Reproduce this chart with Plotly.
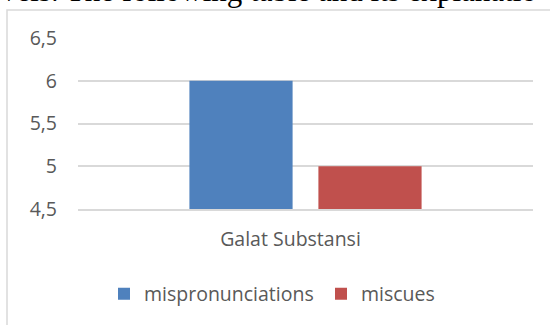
import plotly.graph_objects as go

categories = ["Galat Substansi"]
series_names = ["mispronunciations", "miscues"]
series_values = [[6], [5]]
series_colors = ["#4F81BD", "#C0504D"]
y_ticks = [4.5, 5, 5.5, 6, 6.5]
y_tick_labels = ["4,5", "5", "5,5", "6", "6,5"]
header_text = "vels. The following table and its explanatio"

W, H = 550, 325
L, R, T, B = 78, 17, 38, 116
pw, ph = W - L - R, H - T - B

def px_x(p):
    return (p - L) / pw

def px_y(p):
    return (H - B - p) / ph

fig = go.Figure()
for name, vals, col in zip(series_names, series_values, series_colors):
    fig.add_trace(go.Bar(x=categories, y=vals, name=name, marker=dict(color=col, line=dict(width=0))))

font_main = "Open Sans, Lato, sans-serif"
fig.update_layout(
    width=W, height=H,
    margin=dict(l=L, r=R, t=T, b=B, pad=0),
    paper_bgcolor="white", plot_bgcolor="white",
    barmode="group", bargap=0.433, bargroupgap=0.2,
    font=dict(family=font_main, size=19.5, color="#595959"),
    showlegend=True,
    legend=dict(orientation="h", xref="container", yref="container",
                x=(114 - 10) / W, xanchor="left", y=(H - 294) / H, yanchor="middle",
                font=dict(size=19.5, color="#595959"), itemwidth=30,
                entrywidth=172, entrywidthmode="pixels",
                bgcolor="rgba(0,0,0,0)"),
    xaxis=dict(showgrid=False, showline=True, linecolor="#D9D9D9", linewidth=1.5,
               ticks="", ticklabelstandoff=12, ticklabelshift=-15,
               tickfont=dict(size=19.5, color="#595959")),
    yaxis=dict(range=[4.5, 6.5], tickvals=y_ticks, ticktext=y_tick_labels,
               showgrid=True, gridcolor="#D9D9D9", gridwidth=1.5,
               zeroline=False, showline=False, ticks="",
               ticklabelstandoff=20, tickfont=dict(size=19.5, color="#595959")),
)

# outer chart frame (light gray), top and left edges visible
fig.add_shape(type="rect", xref="paper", yref="paper",
              x0=px_x(7), x1=px_x(560), y0=px_y(340), y1=px_y(10),
              line=dict(color="#D9D9D9", width=1.5), fillcolor="rgba(0,0,0,0)", layer="below")

fig.add_annotation(text=header_text, xref="paper", yref="paper",
                   x=px_x(-1), xanchor="left", y=px_y(-10), yanchor="middle",
                   showarrow=False,
                   font=dict(family="Liberation Serif, Times New Roman, serif", size=31, color="#000000"))

fig.write_html("out.html")
